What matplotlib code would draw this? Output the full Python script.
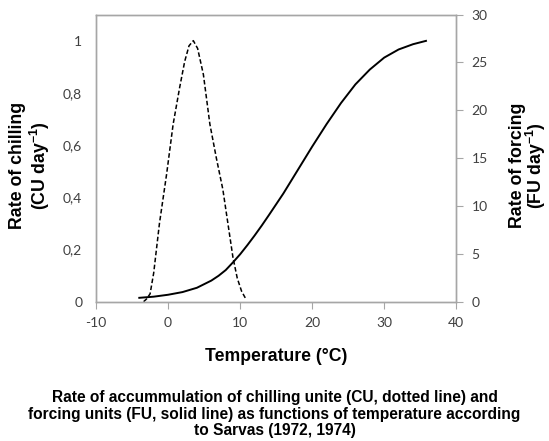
import matplotlib
matplotlib.use("Agg")
import matplotlib.pyplot as plt

# chilling rate (CU/day), left axis -- dashed line
chill_temp = [-3.4, -3.0, -2.5, -2.0, -1.2, -0.2, 0.7, 1.6, 2.3, 2.9, 3.5,
              4.1, 4.9, 5.8, 6.7, 7.6, 8.3, 9.0, 9.6, 10.2, 10.8]
chill_rate = [0.0, 0.01, 0.03, 0.11, 0.30, 0.49, 0.68, 0.82, 0.92, 0.98, 1.0,
              0.97, 0.87, 0.68, 0.55, 0.43, 0.30, 0.17, 0.09, 0.04, 0.01]

# forcing rate (FU/day), right axis -- solid line
force_temp = [-4.0, -2.0, 0.0, 2.0, 4.0, 6.0, 7.0, 8.0, 9.0, 10.0, 11.0, 12.0,
              13.0, 14.0, 16.0, 18.0, 20.0, 22.0, 24.0, 26.0, 28.0, 30.0,
              32.0, 34.0, 35.8]
force_rate = [0.40, 0.52, 0.72, 1.0, 1.45, 2.2, 2.7, 3.3, 4.1, 4.95, 5.9, 6.9,
              7.95, 9.05, 11.3, 13.75, 16.2, 18.55, 20.75, 22.7, 24.25, 25.5,
              26.35, 26.9, 27.25]

x_ticks = [-10, 0, 10, 20, 30, 40]
left_ticks = [0, 0.2, 0.4, 0.6, 0.8, 1]
left_labels = ["0", "0,2", "0,4", "0,6", "0,8", "1"]
right_ticks = [0, 5, 10, 15, 20, 25, 30]

tick_font = "Lato"
bold_font = "Liberation Sans"
grey = "#a6a6a6"
text_col = "#404040"

fig = plt.figure(figsize=(5.49, 4.41), dpi=100)
ax = fig.add_axes([0.175, 0.316, 0.656, 0.651])
ax2 = ax.twinx()

ax.plot(chill_temp, chill_rate, color="black", lw=1.1, linestyle=(0, (3, 1.6)))
ax2.plot(force_temp, force_rate, color="black", lw=1.4)

ax.set_xlim(-10, 40)
ax.set_ylim(0, 1.1)
ax2.set_ylim(0, 30)

ax.set_xticks(x_ticks)
ax.set_xticklabels([str(t) for t in x_ticks], fontname=tick_font, fontsize=10, color=text_col)
ax.set_yticks(left_ticks)
ax.set_yticklabels(left_labels, fontname=tick_font, fontsize=10, color=text_col)
ax2.set_yticks(right_ticks)
ax2.set_yticklabels([str(t) for t in right_ticks], fontname=tick_font, fontsize=10, color=text_col)

ax.tick_params(axis="x", direction="out", length=5, color=grey, pad=6)
ax.tick_params(axis="y", length=0, pad=10)
ax2.tick_params(axis="y", direction="out", length=5, color=grey, pad=6)

for a in (ax, ax2):
    for s in a.spines.values():
        s.set_color(grey)
        s.set_linewidth(1.0)

# two-line axis titles on both sides
fig.text(0.031, 0.625, "Rate of chilling", rotation=90, ha="center", va="center",
         fontname=bold_font, fontweight="bold", fontsize=12.8)
fig.text(0.072, 0.625, "(CU day$^{\\mathregular{-1}}$)", rotation=90, ha="center", va="center",
         fontname=bold_font, fontweight="bold", fontsize=12.8)
fig.text(0.942, 0.625, "Rate of forcing", rotation=90, ha="center", va="center",
         fontname=bold_font, fontweight="bold", fontsize=12.8)
fig.text(0.976, 0.625, "(FU day$^{\\mathregular{-1}}$)", rotation=90, ha="center", va="center",
         fontname=bold_font, fontweight="bold", fontsize=12.8)

fig.text(0.503, 0.191, "Temperature (°C)", ha="center", va="center",
         fontname=bold_font, fontweight="bold", fontsize=12.7)

caption = ("Rate of accummulation of chilling unite (CU, dotted line) and\n"
           "forcing units (FU, solid line) as functions of temperature according\n"
           "to Sarvas (1972, 1974)")
fig.text(0.5, 0.061, caption, ha="center", va="center", linespacing=1.1,
         fontname=bold_font, fontweight="bold", fontsize=11.2)

fig.savefig("out.png", dpi=100)
